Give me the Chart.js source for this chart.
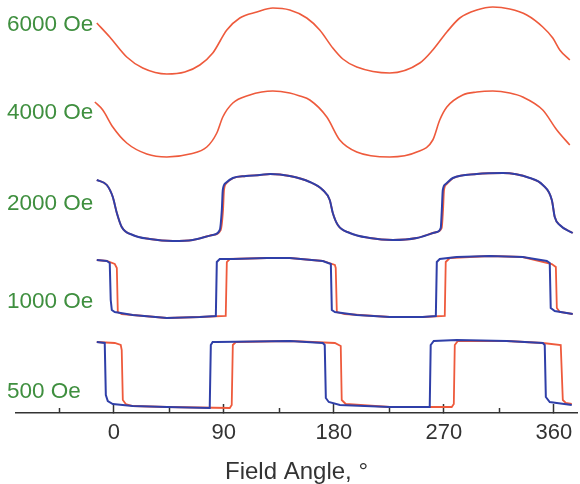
<!DOCTYPE html>
<html>
<head>
<meta charset="utf-8">
<script src="https://cdn.jsdelivr.net/npm/chart.js@4/dist/chart.umd.min.js"></script>
<style>
  html, body { margin: 0; padding: 0; background: #ffffff; }
  #wrap { width: 580px; height: 484px; }
</style>
</head>
<body>
<div id="wrap"><canvas id="c" width="580" height="484"></canvas></div>
<script>
// ---- data (field angle in degrees, signal with vertical offset, a.u.) ----
const fieldLabels = ["6000 Oe", "4000 Oe", "2000 Oe", "1000 Oe", "500 Oe"];
const labelLevels = [388.5, 300.5, 209, 111.5, 21];
const majorTicks = [0, 90, 180, 270, 360];
const minorTicks = [-45, 45, 135, 225, 315];

const ang6000r = [-13.9,-3.3,10.6,23.7,43.4,58.1,70.4,81,92.5,103.1,117,130.1,144,157.9,168.5,179.2,187.4,198.8,225.8,250.4,261,272.5,283.1,297,310.1,324,337.9,351,359.2,364.9,373.1];
const sig6000r = [390,376,356,345,339,341,348,360,383,395,401,405,403,395,383,365,354,346,340,350,363,381,395,403,406,404,398,386,375,363,353];

const ang4000r = [-15.5,-9,-0.8,10.6,27,43.4,62.2,76.1,84.3,89.2,97.4,111.3,121,130.1,144,152.2,160.4,174.3,184.9,198.8,225.8,247.9,261,266.7,272.5,285.5,297,310.1,324,334.6,351,362.5,373.1];
const sig4000r = [311,303,286,270,259,256,259,266,280,296,310,318,321,322,320,317,313,296,273,261,256,261,273,293,306,318,321,322,320,316,303,283,268];

const ang2000b = [-13.9,-5.7,-0.8,2.5,6.5,15.5,29.5,48.3,64.6,81,86.7,88.4,89.2,91.6,97.4,108,119.5,128,144,160.4,171,176.7,179.2,183.3,193.1,209.5,228.3,247.9,264.3,267.5,268.4,269.2,271.6,277.4,297,318.3,340.4,351,358.4,360.8,364.9,375.5];
const sig2000b = [233,228,216,200,186,178,174,172,173,178,183,203,223,230,235,237,238,239,237,231,223,213,200,188,180,175,173,175,181,185,203,223,229,235,239,240,235,228,213,196,188,180];
const ang2000r = [-13.9,-5.7,-0.8,2.5,6.5,15.5,29.5,48.3,64.6,81,87.5,89.4,90.2,92.4,97.9,108,119.5,128,144,160.4,171,176.7,179.2,183.3,193.1,209.5,228.3,247.9,264.3,268.3,269.4,270.2,272.4,277.9,297,318.3,340.4,351,358.4,360.8,364.9,375.5];
const sig2000r = [233,228,216,200,186,178,174,172,173,178,183,203,223,230,235,237,238,239,237,231,223,213,200,188,180,175,173,175,181,185,203,223,229,235,239,240,235,228,213,196,188,180];

const ang1000b = [-13.9,-5.7,-3.3,-2.5,-1.6,0.8,15.5,43.4,70.4,83.5,84.3,86.7,97.4,125.2,144,171,177.6,178.4,180.9,198.8,225.8,252.8,263.5,264.3,266.7,280.6,307.6,334.6,354.3,356.7,357.5,360.8,375.5];
const sig1000b = [153,152,150,113,103,101,98,95,96,97,151,154,154,155,155,152,149,103,101,98,96,96,97,151,154,156,157,156,152,150,105,102,99];
const ang1000r = [-13.9,-5.7,0.8,2.5,3.3,6.5,15.5,43.4,70.4,91.6,92.5,94.9,125.2,144,171,180.9,181.6,182.5,189,225.8,252.8,270.8,271.6,274.9,307.6,334.6,358.4,361.7,362.5,364.9,375.5];
const sig1000r = [153,152,149,145,101,99,98,95,96,97,151,154,155,155,152,148,145,101,99,96,96,97,151,155,157,156,149,146,105,101,99];

const ang500b = [-13.9,-7.4,-6.5,-4.9,-0.8,15.5,43.4,78.5,79.4,80.9,84.3,144,171,172.6,173.5,175.9,185,225.8,258.5,259.3,261.8,280.6,321.5,351,352.6,353.5,356.7,362.5,374.7];
const sig500b = [71,70,18,12,9,7,6,5,68,71,71,72,70,68,15,11,8,6,6,68,72,73,72,70,68,16,11,10,8];
const ang500r = [-13.9,0.8,5.7,6.5,7.4,9.8,15.5,43.4,94.9,96.5,97.4,99.9,144,180.9,185.7,186.5,189.8,225.8,276.5,278.2,279,281.5,321.5,351,365.7,367.4,369.8,374.7];
const sig500r = [71,70,68,63,13,9,7,6,5,8,68,71,72,70,67,13,9,6,6,9,68,72,72,70,68,13,10,9];

// ---- styling ----
const RED = '#ee5a3c';
const BLUE = '#2f3fa8';
const GREEN = '#3f8f3f';
const AXIS = '#333333';

function pts(a, s) { return a.map((v, i) => ({ x: v, y: s[i] })); }
function ds(a, s, color, mode, order, width) {
  return {
    data: pts(a, s),
    borderColor: color,
    borderWidth: width,
    pointRadius: 0,
    fill: false,
    order: order,
    tension: mode === 'step' ? 0 : 0.4,
    cubicInterpolationMode: mode === 'mono' ? 'monotone' : 'default'
  };
}

const datasets = [
  ds(ang6000r, sig6000r, RED, 'mono', 2, 1.6),
  ds(ang4000r, sig4000r, RED, 'mono', 2, 1.6),
  ds(ang2000r, sig2000r, RED, 'mono', 2, 1.8),
  ds(ang2000b, sig2000b, BLUE, 'mono', 1, 2),
  ds(ang1000r, sig1000r, RED, 'step', 2, 1.8),
  ds(ang1000b, sig1000b, BLUE, 'step', 1, 2),
  ds(ang500r, sig500r, RED, 'step', 2, 1.8),
  ds(ang500b, sig500b, BLUE, 'step', 1, 2)
];

const overlay = {
  id: 'overlay',
  afterDatasetsDraw(chart) {
    const { ctx, scales: { x, y }, chartArea } = chart;
    ctx.save();
    ctx.strokeStyle = AXIS;
    ctx.lineWidth = 1.5;
    minorTicks.forEach(v => {
      const px = Math.round(x.getPixelForValue(v)) + 0.5;
      ctx.beginPath();
      ctx.moveTo(px, chartArea.bottom);
      ctx.lineTo(px, chartArea.bottom - 5);
      ctx.stroke();
    });
    ctx.fillStyle = GREEN;
    ctx.font = '22.5px "Liberation Sans", Arial, sans-serif';
    ctx.textBaseline = 'middle';
    ctx.textAlign = 'left';
    fieldLabels.forEach((t, i) => {
      ctx.fillText(t, chartArea.left - 9, y.getPixelForValue(labelLevels[i]));
    });
    ctx.restore();
  }
};

new Chart(document.getElementById('c'), {
  type: 'line',
  data: { datasets },
  plugins: [overlay],
  options: {
    responsive: false,
    animation: false,
    devicePixelRatio: 1,
    layout: { padding: { left: 16, right: 3, top: 0, bottom: 0 } },
    plugins: { legend: { display: false }, tooltip: { enabled: false } },
    scales: {
      x: {
        type: 'linear',
        min: -80,
        max: 379,
        afterBuildTicks: (axis) => { axis.ticks = majorTicks.map(v => ({ value: v })); },
        afterFit: (axis) => { axis.height = 71; },
        ticks: {
          autoSkip: false,
          maxRotation: 0,
          padding: 0,
          color: AXIS,
          font: { family: '"Liberation Sans", Arial, sans-serif', size: 22, lineHeight: 2.6 }
        },
        grid: {
          drawOnChartArea: false,
          drawTicks: true,
          tickLength: -9,
          tickColor: AXIS,
          tickWidth: 1.5
        },
        border: { display: true, color: AXIS, width: 1.5 },
        title: {
          display: true,
          text: 'Field Angle, °',
          color: AXIS,
          padding: { top: 0, bottom: 0 },
          font: { family: '"Liberation Sans", Arial, sans-serif', size: 24, lineHeight: 1 }
        }
      },
      y: {
        type: 'linear',
        display: false,
        min: 0,
        max: 413
      }
    }
  }
});
</script>
</body>
</html>
